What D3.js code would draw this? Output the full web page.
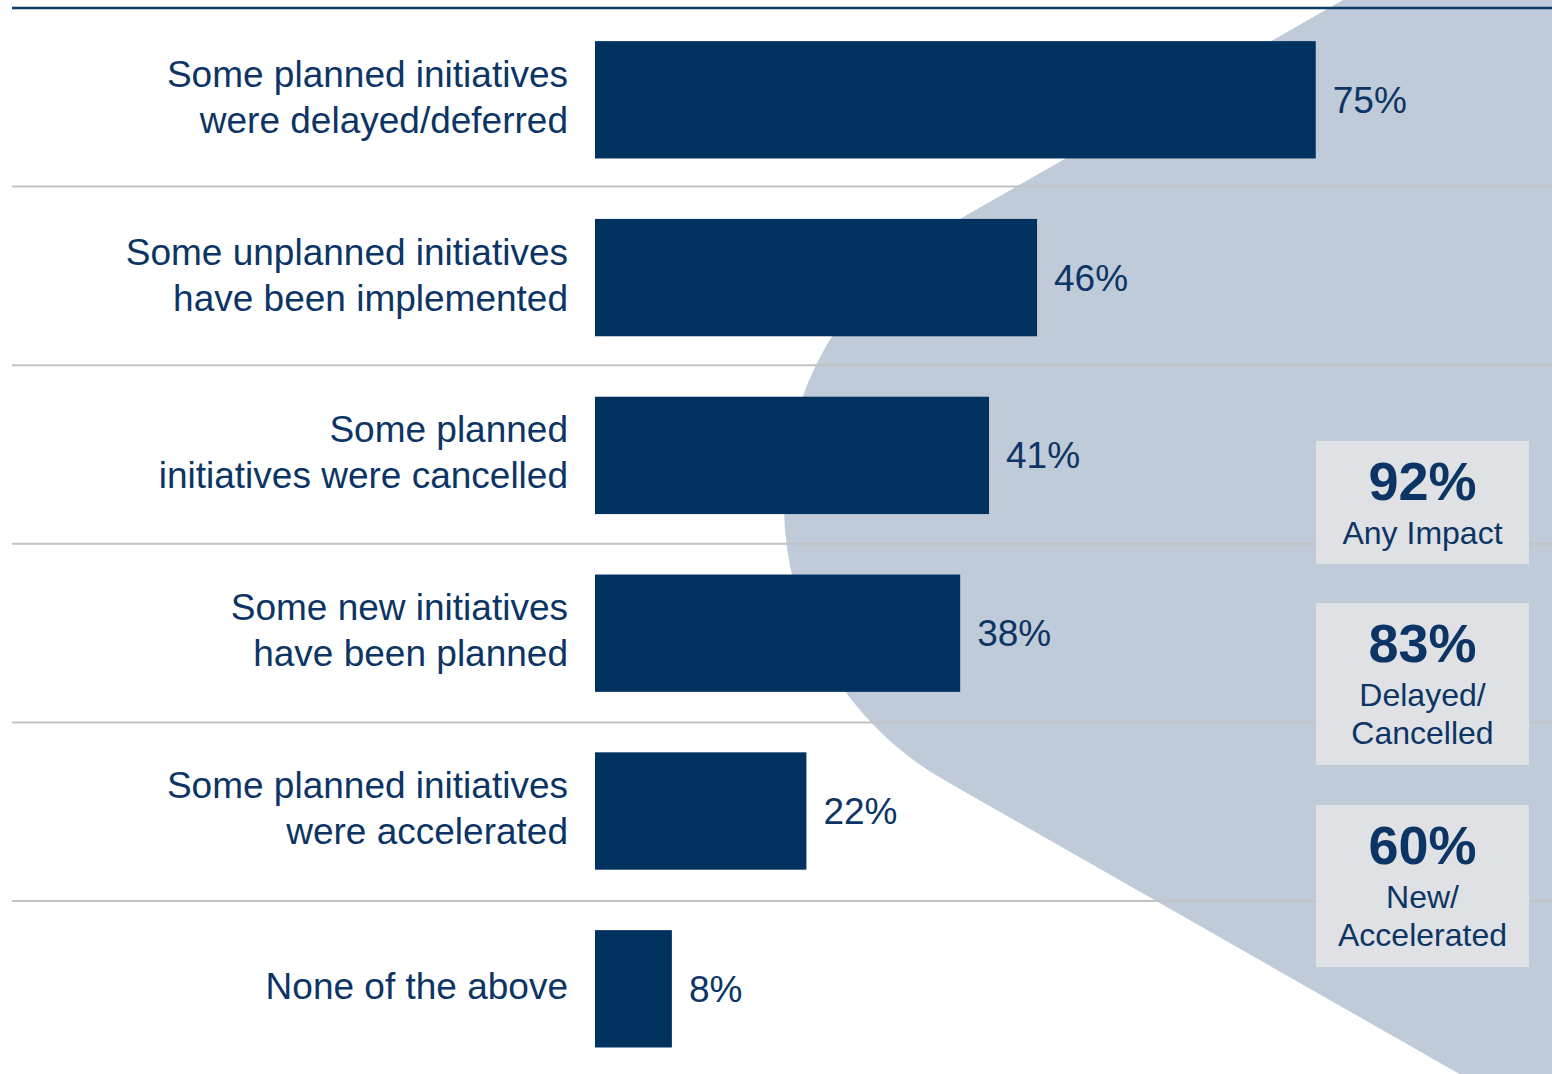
<!DOCTYPE html>
<html>
<head>
<meta charset="utf-8">
<script src="https://cdn.jsdelivr.net/npm/d3@7"></script>
<style>
  html, body { margin: 0; padding: 0; background: #ffffff; }
  svg { display: block; font-family: "Liberation Sans", Arial, sans-serif; }
</style>
</head>
<body>
<svg id="chart" width="1552" height="1074"></svg>
<script>
// ---- Data ----
const categories = [
  ["Some planned initiatives", "were delayed/deferred"],
  ["Some unplanned initiatives", "have been implemented"],
  ["Some planned", "initiatives were cancelled"],
  ["Some new initiatives", "have been planned"],
  ["Some planned initiatives", "were accelerated"],
  ["None of the above"]
];
const values = [75, 46, 41, 38, 22, 8];
const summaryValues = [92, 83, 60];
const summaryLabels = [["Any Impact"], ["Delayed/", "Cancelled"], ["New/", "Accelerated"]];

// ---- Layout ----
const W = 1552, H = 1074;
const svg = d3.select("#chart");
const navy = "#003260";
const textCol = "#0c3565";

const x = d3.scaleLinear().domain([0, 100]).range([595, 1556]);
const barStep = 177.8;
const y = d3.scaleBand()
  .domain(d3.range(categories.length))
  .range([10.9, 10.9 + barStep * categories.length])
  .paddingInner(0.34)
  .paddingOuter(0.17);

// Background chevron shape
const shape = d3.path();
shape.moveTo(1343, 0);
shape.lineTo(944, 228);
shape.arcTo(461, 504, 944, 780, 318);
shape.lineTo(944, 780);
shape.lineTo(1.75 * H - 420, H);
shape.lineTo(W, H);
shape.lineTo(W, 0);
shape.closePath();
svg.append("path").attr("d", shape.toString()).attr("fill", "#bfcbd8");

// Gridlines at row boundaries
const rowStep = 178.6;
const gridYs = d3.range(1, categories.length).map(i => 8 + rowStep * i);
svg.selectAll("line.grid").data(gridYs).join("line")
  .attr("class", "grid")
  .attr("x1", 12).attr("x2", W)
  .attr("y1", d => d).attr("y2", d => d)
  .attr("stroke", "#c3c3c3").attr("stroke-width", 2);

// Top rule
svg.append("line").attr("x1", 12).attr("x2", W).attr("y1", 8).attr("y2", 8)
  .attr("stroke", "#0d3a66").attr("stroke-width", 2.5);

// Bars
svg.selectAll("rect.bar").data(values).join("rect")
  .attr("class", "bar")
  .attr("x", x(0))
  .attr("y", (d, i) => y(i))
  .attr("width", d => x(d) - x(0))
  .attr("height", y.bandwidth())
  .attr("fill", navy);

// Value labels
svg.selectAll("text.val").data(values).join("text")
  .attr("class", "val")
  .attr("x", d => x(d) + 17)
  .attr("y", (d, i) => y(i) + y.bandwidth() / 2)
  .attr("dy", "0.35em")
  .attr("fill", textCol)
  .attr("font-size", 37)
  .text(d => d + "%");

// Category labels
const lineH = 46;
categories.forEach((lines, i) => {
  const cy = y(i) + y.bandwidth() / 2 - 3;
  const t = svg.append("text")
    .attr("text-anchor", "end")
    .attr("fill", textCol)
    .attr("font-size", 37);
  lines.forEach((ln, j) => {
    t.append("tspan")
      .attr("x", 568)
      .attr("y", cy + (j - (lines.length - 1) / 2) * lineH)
      .attr("dy", "0.35em")
      .text(ln);
  });
});

// Summary boxes
const boxes = [
  {y: 441, h: 123},
  {y: 603, h: 162},
  {y: 805, h: 162}
];
const bx = 1316, bw = 213, bcx = bx + bw / 2;
summaryValues.forEach((v, i) => {
  const b = boxes[i];
  svg.append("rect").attr("x", bx).attr("y", b.y).attr("width", bw).attr("height", b.h)
    .attr("fill", "#dfe1e4");
  svg.append("text").attr("x", bcx).attr("y", b.y + 59)
    .attr("text-anchor", "middle").attr("font-weight", "bold")
    .attr("font-size", 54).attr("fill", textCol)
    .text(v + "%");
  summaryLabels[i].forEach((ln, j) => {
    svg.append("text").attr("x", bcx).attr("y", b.y + 103 + j * 38)
      .attr("text-anchor", "middle").attr("font-size", 32).attr("fill", textCol)
      .text(ln);
  });
});
</script>
</body>
</html>
